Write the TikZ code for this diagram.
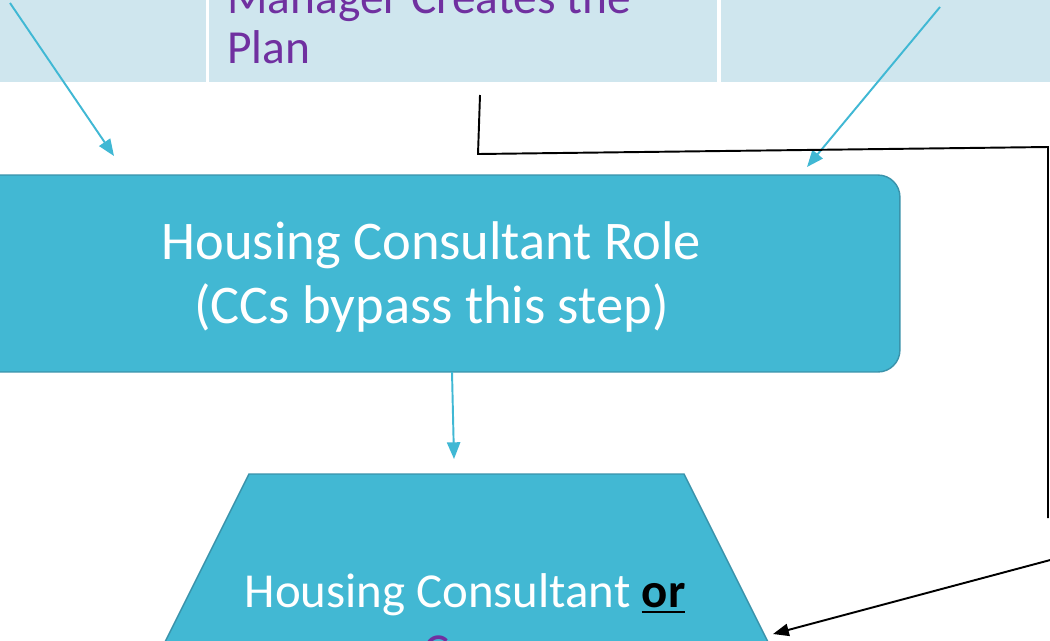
\documentclass[tikz,border=0pt]{standalone}
\usepackage{fontspec}
\setmainfont{Carlito}
\usetikzlibrary{arrows.meta}
\definecolor{band}{HTML}{CFE6EE}
\definecolor{boxfill}{HTML}{42B8D3}
\definecolor{boxedge}{HTML}{3A93AB}
\definecolor{arrowblue}{HTML}{40B8D4}
\definecolor{purp}{HTML}{7030A0}
\newcommand\myul[1]{\setbox0\hbox{#1}\rlap{\rule[-3.2pt]{\wd0}{1.1pt}}\box0}
\begin{document}
\begin{tikzpicture}[x=0.02cm,y=-0.02cm,
  cell/.style={rectangle, fill=band, draw=white, line width=1.7pt, inner sep=0pt, anchor=south west},
  plantext/.style={text=purp, font=\fontsize{27}{28.35}\selectfont, align=left, inner sep=0pt},
  hcrbox/.style={rectangle, rounded corners=12.5pt, fill=boxfill, draw=boxedge, line width=0.8pt, inner sep=0pt},
  hcrtext/.style={text=white, font=\fontsize{31}{36.3}\selectfont, align=center, inner sep=0pt},
  trapfill/.style={fill=boxfill, draw=boxedge, line width=0.8pt},
  hcotext/.style={text=white, font=\fontsize{27.8}{34}\selectfont, inner sep=0pt},
  barrow/.style={draw=arrowblue, line width=1.1pt, -{Triangle[length=9.5pt,width=7.5pt]}},
  blk/.style={draw=black, line width=1.1pt}
]
\useasboundingbox (0,0) rectangle (1050,640);
\clip (0,0) rectangle (1050,640);
\fill[white] (0,0) rectangle (1050,640);
% top band cells
\node[cell, minimum width=4.33cm, minimum height=5.69cm] (lcell) at (-10,84.5) {};
\node[cell, minimum width=10.22cm, minimum height=5.69cm] (plan) at (206.5,84.5) {};
\node[cell, minimum width=7cm, minimum height=5.69cm] (rcell) at (717.5,84.5) {};
\node[plantext, anchor=base west] (plantxt) at (227,63) {Manager Creates the\\Plan};
% housing consultant role box
\node[hcrbox, minimum width=18.8cm, minimum height=3.94cm] (hcr) at (430,273.5) {};
\node[hcrtext, anchor=base] (hcrtxt) at (431.5,323) {Housing Consultant Role\\(CCs bypass this step)};
% trapezoid
\path[trapfill] (249,474) -- (684,474) -- (797,700) -- (136,700) -- cycle;
\node[hcotext, anchor=base] (hcoA) at (465,607) {Housing Consultant {\color{black}\myul{\textbf{or}}}};
\node[hcotext, text=purp, anchor=base west] (hcoB) at (423,667) {C};
% coordinates
\coordinate (la1) at (10,3);
\coordinate (la2) at (114,156);
\coordinate (ra1) at (940,7);
\coordinate (ra2) at (807,167);
\coordinate (da1) at (452,372);
\coordinate (da2) at (454,459);
\coordinate (k1) at (480,95);
\coordinate (k2) at (478,154);
\coordinate (k3) at (1048,147);
\coordinate (k4) at (1048,518);
\coordinate (k5) at (1054,559);
\coordinate (hcoR) at (773,634);
% connectors
\draw[barrow] (la1) -- (la2);
\draw[barrow] (ra1) -- (ra2);
\draw[barrow] (da1) -- (da2);
\draw[blk] (k1) -- (k2) -- (k3) -- (k4);
\draw[blk, -{Triangle[length=9pt,width=7pt]}] (k5) -- (hcoR);
\end{tikzpicture}
\end{document}
